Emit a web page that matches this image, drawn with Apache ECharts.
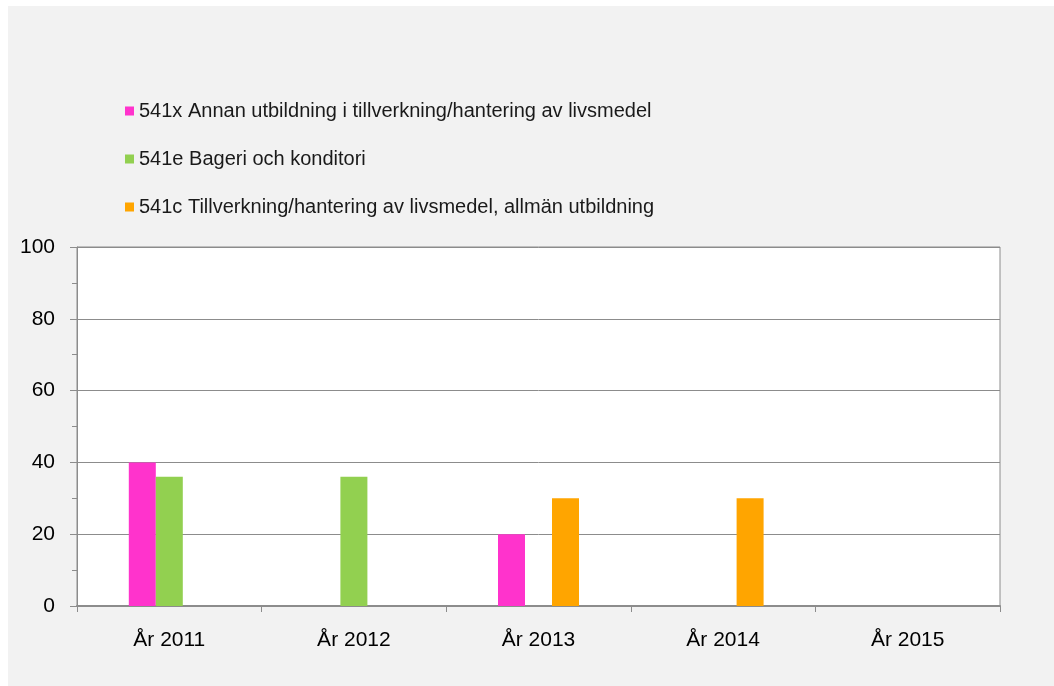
<!DOCTYPE html>
<html>
<head>
<meta charset="utf-8">
<script src="https://cdn.jsdelivr.net/npm/echarts@6/dist/echarts.min.js"></script>
<style>
  html, body { margin: 0; padding: 0; background: #ffffff; }
  #chart { position: absolute; left: 8px; top: 6px; width: 1046px; height: 680px; background: #f2f2f2; }
</style>
</head>
<body>
<div id="chart"></div>
<script>
// kategorier (år)
var years = ['År 2011', 'År 2012', 'År 2013', 'År 2014', 'År 2015'];
// serier
var seriesNames = [
  '541x Annan utbildning i tillverkning/hantering av livsmedel',
  '541e Bageri och konditori',
  '541c Tillverkning/hantering av livsmedel, allmän utbildning'
];
var annanValues = [40, null, 20, null, null];
var bageriValues = [36, 36, null, null, null];
var tillverkningValues = [null, null, 30, 30, null];
var seriesColors = ['#ff33cc', '#92d050', '#ffa500'];

var chart = echarts.init(document.getElementById('chart'));
var fontFam = '"Liberation Sans", Arial, sans-serif';

chart.setOption({
  animation: false,
  backgroundColor: '#f2f2f2',
  textStyle: { fontFamily: fontFam },
  legend: {
    orient: 'vertical',
    left: 112,
    top: 90,
    padding: 5,
    icon: 'rect',
    itemWidth: 9,
    itemHeight: 9,
    itemGap: 28,
    textStyle: { fontSize: 20, lineHeight: 20, color: '#1a1a1a', fontFamily: fontFam },
    data: seriesNames
  },
  grid: {
    left: 69,
    right: 54,
    top: 241,
    bottom: 80,
    show: true,
    backgroundColor: '#ffffff',
    borderColor: '#8c8c8c',
    borderWidth: 1
  },
  xAxis: {
    type: 'category',
    data: years,
    axisLine: { lineStyle: { color: '#8c8c8c', width: 2 } },
    axisTick: { show: true, length: 6, lineStyle: { color: '#8c8c8c', width: 1 } },
    axisLabel: { color: '#000000', fontSize: 21, margin: 24, fontFamily: fontFam }
  },
  yAxis: {
    type: 'value',
    min: 0,
    max: 100,
    interval: 20,
    axisLine: { show: true, lineStyle: { color: '#8c8c8c' } },
    axisTick: { show: true, length: 7, lineStyle: { color: '#8c8c8c' } },
    minorTick: { show: true, splitNumber: 2, length: 5, lineStyle: { color: '#8c8c8c' } },
    splitLine: { lineStyle: { color: '#8c8c8c' } },
    axisLabel: { color: '#000000', fontSize: 21, margin: 22, fontFamily: fontFam }
  },
  series: [
    { name: seriesNames[0], type: 'bar', data: annanValues, barWidth: 27, barGap: '0%', itemStyle: { color: seriesColors[0] } },
    { name: seriesNames[1], type: 'bar', data: bageriValues, barWidth: 27, barGap: '0%', itemStyle: { color: seriesColors[1] } },
    { name: seriesNames[2], type: 'bar', data: tillverkningValues, barWidth: 27, barGap: '0%', itemStyle: { color: seriesColors[2] } }
  ]
});
</script>
</body>
</html>
